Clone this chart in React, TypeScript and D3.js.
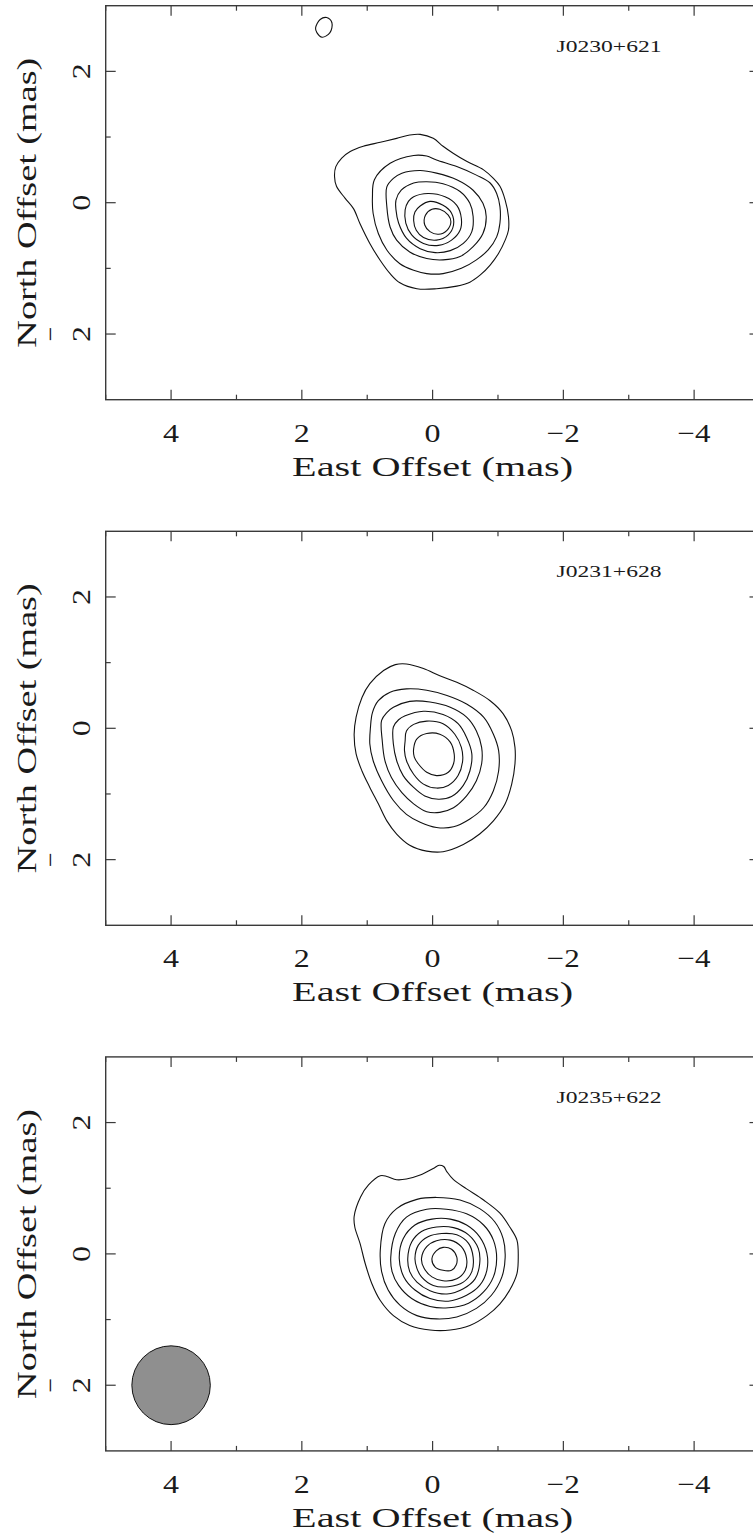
import React from 'react';
import * as d3 from 'd3';

// Source names, one per panel
const sourceNames = ['J0230+621', 'J0231+628', 'J0235+622'];

// Axis ticks (mas)
const xMajorTicks = [4, 2, 0, -2, -4];
const xMinorTicks = [5, 3, 1, -1, -3, -5];
const yMajorTicks = [2, 0, -2];
const yMinorTicks = [1, -1];

// Contours, [east offset, north offset] in mas, outermost first
const j0230Contours: [number, number][][] = [
  [[0.19, 1.04], [-0.01, 0.98], [-0.16, 0.86], [-0.32, 0.75], [-0.52, 0.63], [-0.78, 0.5], [-0.93, 0.37], [-1.03, 0.25],
   [-1.11, 0.04], [-1.16, -0.21], [-1.16, -0.42], [-1.11, -0.57], [-1.01, -0.77], [-0.88, -0.95], [-0.73, -1.1],
   [-0.57, -1.21], [-0.37, -1.27], [-0.06, -1.31], [0.24, -1.31], [0.5, -1.22], [0.65, -1.08], [0.8, -0.88],
   [0.96, -0.62], [1.11, -0.32], [1.21, -0.09], [1.34, 0.07], [1.47, 0.25], [1.5, 0.4], [1.48, 0.55], [1.39, 0.68],
   [1.26, 0.78], [1.06, 0.86], [0.8, 0.92], [0.55, 0.98], [0.35, 1.03]],
  [[0.89, 0.35], [0.65, 0.6], [0.29, 0.72], [0.09, 0.71], [-0.06, 0.65], [-0.37, 0.55], [-0.67, 0.42], [-0.88, 0.3],
   [-0.98, 0.14], [-1.03, -0.06], [-1.03, -0.31], [-0.98, -0.52], [-0.85, -0.72], [-0.67, -0.87], [-0.44, -1.0],
   [-0.16, -1.08], [0.09, -1.08], [0.29, -1.03], [0.5, -0.93], [0.7, -0.72], [0.83, -0.47], [0.91, -0.16], [0.92, 0.09]],
  [[0.7, 0.24], [0.6, 0.37], [0.47, 0.45], [0.19, 0.49], [-0.06, 0.45], [-0.37, 0.35], [-0.62, 0.19], [-0.77, -0.01],
   [-0.82, -0.21], [-0.77, -0.47], [-0.62, -0.67], [-0.42, -0.82], [-0.16, -0.87], [0.09, -0.85], [0.35, -0.75],
   [0.55, -0.57], [0.65, -0.37], [0.7, -0.06]],
  [[0.56, 0.04], [0.48, 0.19], [0.29, 0.3], [0.09, 0.32], [-0.16, 0.29], [-0.42, 0.17], [-0.57, -0.01], [-0.62, -0.21],
   [-0.6, -0.44], [-0.47, -0.62], [-0.27, -0.73], [-0.04, -0.76], [0.19, -0.7], [0.4, -0.54], [0.52, -0.31], [0.56, -0.11]],
  [[0.42, -0.11], [0.37, 0.02], [0.29, 0.09], [0.07, 0.14], [-0.19, 0.09], [-0.37, -0.04], [-0.44, -0.24], [-0.42, -0.42],
   [-0.29, -0.57], [-0.09, -0.65], [0.14, -0.62], [0.32, -0.49], [0.41, -0.31]],
  [[0.29, -0.27], [0.27, -0.14], [0.19, -0.05], [0.04, 0.02], [-0.16, -0.04], [-0.29, -0.16], [-0.32, -0.34],
   [-0.24, -0.49], [-0.06, -0.57], [0.14, -0.53], [0.25, -0.42]],
  [[0.11, -0.19], [0.01, -0.1], [-0.11, -0.1], [-0.24, -0.19], [-0.28, -0.29], [-0.22, -0.42], [-0.09, -0.48],
   [0.04, -0.44], [0.12, -0.34]],
  [[1.62, 2.82], [1.54, 2.74], [1.57, 2.59], [1.69, 2.52], [1.77, 2.59], [1.79, 2.66], [1.72, 2.79]],
];

const j0231Contours: [number, number][][] = [
  [[0.4, 0.98], [0.14, 0.91], [-0.11, 0.8], [-0.37, 0.7], [-0.62, 0.58], [-0.88, 0.42], [-1.08, 0.22], [-1.21, -0.04],
   [-1.26, -0.29], [-1.26, -0.54], [-1.21, -0.85], [-1.11, -1.15], [-0.93, -1.41], [-0.72, -1.61], [-0.47, -1.77],
   [-0.16, -1.88], [0.09, -1.87], [0.35, -1.78], [0.55, -1.61], [0.7, -1.41], [0.83, -1.15], [0.96, -0.9], [1.08, -0.65],
   [1.17, -0.39], [1.2, -0.09], [1.17, 0.17], [1.08, 0.47], [0.96, 0.68], [0.75, 0.88], [0.57, 0.97]],
  [[0.83, 0.42], [0.65, 0.55], [0.4, 0.6], [0.09, 0.58], [-0.22, 0.5], [-0.52, 0.37], [-0.78, 0.17], [-0.93, -0.09],
   [-1.01, -0.34], [-1.01, -0.65], [-0.93, -0.95], [-0.78, -1.21], [-0.57, -1.38], [-0.32, -1.5], [-0.06, -1.51],
   [0.19, -1.43], [0.4, -1.31], [0.6, -1.1], [0.78, -0.8], [0.91, -0.49], [0.96, -0.24], [0.95, 0.02], [0.92, 0.24]],
  [[0.78, 0.12], [0.7, 0.24], [0.6, 0.32], [0.35, 0.41], [0.04, 0.4], [-0.27, 0.32], [-0.52, 0.17], [-0.67, -0.04],
   [-0.75, -0.29], [-0.75, -0.54], [-0.67, -0.8], [-0.52, -1.03], [-0.32, -1.21], [-0.11, -1.28], [0.09, -1.27],
   [0.29, -1.15], [0.47, -0.98], [0.63, -0.75], [0.73, -0.49], [0.77, -0.19]],
  [[0.6, 0.02], [0.52, 0.13], [0.42, 0.19], [0.14, 0.26], [-0.16, 0.21], [-0.39, 0.07], [-0.52, -0.14], [-0.6, -0.39],
   [-0.57, -0.65], [-0.47, -0.87], [-0.29, -1.04], [-0.09, -1.08], [0.12, -1.03], [0.29, -0.9], [0.45, -0.72],
   [0.55, -0.49], [0.6, -0.24]],
  [[0.42, -0.19], [0.4, -0.04], [0.29, 0.06], [0.09, 0.11], [-0.16, 0.07], [-0.34, -0.09], [-0.44, -0.29],
   [-0.46, -0.49], [-0.39, -0.72], [-0.24, -0.87], [-0.06, -0.91], [0.14, -0.85], [0.29, -0.7], [0.4, -0.49], [0.43, -0.34]],
  [[0.29, -0.31], [0.24, -0.16], [0.09, -0.08], [-0.11, -0.09], [-0.27, -0.21], [-0.33, -0.39], [-0.32, -0.54],
   [-0.24, -0.67], [-0.06, -0.72], [0.09, -0.67], [0.22, -0.54], [0.28, -0.44]],
];

const j0235Contours: [number, number][][] = [
  [[1.2, 0.57], [1.1, 0.87], [0.98, 1.05], [0.8, 1.19], [0.7, 1.18], [0.55, 1.13], [0.4, 1.14], [0.19, 1.2],
   [-0.01, 1.3], [-0.1, 1.35], [-0.17, 1.33], [-0.22, 1.25], [-0.32, 1.13], [-0.52, 0.99], [-0.78, 0.82],
   [-1.03, 0.62], [-1.18, 0.41], [-1.29, 0.21], [-1.31, -0.05], [-1.29, -0.3], [-1.18, -0.55], [-1.03, -0.76],
   [-0.83, -0.94], [-0.57, -1.09], [-0.27, -1.16], [0.04, -1.16], [0.35, -1.09], [0.6, -0.94], [0.8, -0.71],
   [0.93, -0.45], [1.03, -0.15], [1.11, 0.16], [1.19, 0.41]],
  [[0.8, 0.06], [0.73, 0.46], [0.55, 0.69], [0.24, 0.83], [-0.06, 0.86], [-0.42, 0.82], [-0.72, 0.69], [-0.95, 0.49],
   [-1.08, 0.23], [-1.11, -0.05], [-1.06, -0.35], [-0.9, -0.63], [-0.67, -0.83], [-0.37, -0.96], [-0.06, -0.99],
   [0.24, -0.94], [0.5, -0.78], [0.68, -0.55], [0.78, -0.27]],
  [[0.64, -0.05], [0.57, 0.31], [0.4, 0.56], [0.09, 0.68], [-0.21, 0.68], [-0.52, 0.61], [-0.78, 0.44], [-0.93, 0.21],
   [-0.98, -0.07], [-0.93, -0.35], [-0.78, -0.58], [-0.55, -0.75], [-0.24, -0.82], [0.04, -0.8], [0.32, -0.68],
   [0.52, -0.48], [0.62, -0.27]],
  [[0.51, -0.07], [0.45, 0.23], [0.27, 0.44], [0.01, 0.53], [-0.27, 0.53], [-0.52, 0.44], [-0.72, 0.26], [-0.83, 0.01],
   [-0.83, -0.25], [-0.72, -0.48], [-0.52, -0.63], [-0.24, -0.72], [0.04, -0.68], [0.27, -0.55], [0.44, -0.35]],
  [[0.38, -0.07], [0.32, 0.18], [0.17, 0.34], [-0.06, 0.41], [-0.32, 0.4], [-0.55, 0.29], [-0.7, 0.08], [-0.72, -0.15],
   [-0.65, -0.38], [-0.47, -0.53], [-0.22, -0.61], [0.04, -0.56], [0.24, -0.43], [0.35, -0.27]],
  [[0.27, -0.07], [0.22, 0.13], [0.07, 0.26], [-0.14, 0.31], [-0.37, 0.29], [-0.55, 0.16], [-0.62, -0.05],
   [-0.6, -0.27], [-0.47, -0.43], [-0.24, -0.5], [-0.01, -0.48], [0.17, -0.35], [0.24, -0.22]],
  [[0.17, -0.07], [0.09, 0.11], [-0.06, 0.2], [-0.27, 0.21], [-0.44, 0.11], [-0.52, -0.07], [-0.5, -0.25],
   [-0.37, -0.38], [-0.16, -0.41], [0.01, -0.35], [0.13, -0.22]],
  [[0.01, -0.07], [-0.06, 0.05], [-0.16, 0.1], [-0.29, 0.07], [-0.37, -0.05], [-0.36, -0.17], [-0.29, -0.25],
   [-0.16, -0.25], [-0.04, -0.2]],
];

const panelContours = [j0230Contours, j0231Contours, j0235Contours];

// Restoring beam (only drawn in the last panel), mas
const beamCenter: [number, number] = [4, -2];
const beamRadius = 0.6;

const W = 753;
const H = 1536;
const frameLeft = 105.7;
const frameRight = 759.5;
const frameH = 394;
const panelTops = [5.7, 531.3, 1056.9];
const serif = '"Liberation Serif", "DejaVu Serif", serif';
const frameColor = '#3a3a3a';
const textColor = '#1a1a1a';

const x = d3.scaleLinear().domain([5, -5]).range([frameLeft, frameRight]);

const Panel = ({ index }: { index: number }) => {
  const top = panelTops[index];
  const y = d3.scaleLinear().domain([-3, 3]).range([top + frameH, top]);
  const bottom = top + frameH;
  const line = d3
    .line<[number, number]>()
    .x((d) => x(d[0]))
    .y((d) => y(d[1]))
    .curve(d3.curveCatmullRomClosed.alpha(0.5));

  return (
    <g>
      {/* contours */}
      {panelContours[index].map((c, i) => (
        <path key={i} d={line(c) || ''} fill="none" stroke="#111" strokeWidth={1.1} />
      ))}
      {index === 2 && (
        <ellipse
          cx={x(beamCenter[0])}
          cy={y(beamCenter[1])}
          rx={Math.abs(x(beamRadius) - x(0))}
          ry={Math.abs(y(beamRadius) - y(0))}
          fill="#8f8f8f"
          stroke="#111"
          strokeWidth={1}
        />
      )}
      {/* frame */}
      <rect x={frameLeft} y={top} width={frameRight - frameLeft} height={frameH} fill="none" stroke={frameColor} strokeWidth={1.4} />
      {/* x ticks, top and bottom */}
      {xMajorTicks.concat(xMinorTicks).map((t) => {
        const len = xMajorTicks.includes(t) ? 10 : 5;
        return (
          <g key={'x' + t} stroke={frameColor} strokeWidth={1.2}>
            <line x1={x(t)} x2={x(t)} y1={bottom} y2={bottom - len} />
            <line x1={x(t)} x2={x(t)} y1={top} y2={top + len} />
          </g>
        );
      })}
      {/* y ticks, left and right */}
      {yMajorTicks.concat(yMinorTicks).map((t) => {
        const len = yMajorTicks.includes(t) ? 10 : 5;
        return (
          <g key={'y' + t} stroke={frameColor} strokeWidth={1.2}>
            <line x1={frameLeft} x2={frameLeft + len} y1={y(t)} y2={y(t)} />
            <line x1={frameRight} x2={frameRight - len} y1={y(t)} y2={y(t)} />
          </g>
        );
      })}
      {/* x tick labels */}
      {xMajorTicks.map((t) => (
        <text
          key={'xl' + t}
          x={x(t)}
          y={bottom + 42}
          textAnchor="middle"
          fontFamily={serif}
          fontSize={26}
          fill={textColor}
          textLength={t < 0 ? 33 : 16}
          lengthAdjust="spacingAndGlyphs"
        >
          {t < 0 ? '\u2212' + Math.abs(t) : String(t)}
        </text>
      ))}
      {/* y tick labels (rotated) */}
      {yMajorTicks.map((t) => (
        <g key={'yl' + t}>
          <text
            transform={`translate(89.5,${y(t)}) rotate(-90)`}
            textAnchor="middle"
            fontFamily={serif}
            fontSize={26}
            fill={textColor}
            textLength={16}
            lengthAdjust="spacingAndGlyphs"
          >
            {String(Math.abs(t))}
          </text>
          {t < 0 && (
            <text
              transform={`translate(59,${y(t)}) rotate(-90)`}
              textAnchor="middle"
              fontFamily={serif}
              fontSize={26}
              fill={textColor}
            >
              {'\u2212'}
            </text>
          )}
        </g>
      ))}
      {/* axis titles */}
      <text
        x={x(0)}
        y={bottom + 76}
        textAnchor="middle"
        fontFamily={serif}
        fontSize={27}
        fill={textColor}
        textLength={281}
        lengthAdjust="spacingAndGlyphs"
      >
        East Offset (mas)
      </text>
      <text
        transform={`translate(36,${y(0)}) rotate(-90)`}
        textAnchor="middle"
        fontFamily={serif}
        fontSize={28}
        fill={textColor}
        textLength={290}
        lengthAdjust="spacingAndGlyphs"
      >
        North Offset (mas)
      </text>
      {/* source name */}
      <text
        x={609}
        y={top + 46}
        textAnchor="middle"
        fontFamily={serif}
        fontSize={16}
        fill={textColor}
        textLength={105}
        lengthAdjust="spacingAndGlyphs"
      >
        {sourceNames[index]}
      </text>
    </g>
  );
};

const App = () => (
  <svg
    width={W}
    height={H}
    style={{ position: 'absolute', left: 0, top: 0, background: '#fff' }}
  >
    {sourceNames.map((_, i) => (
      <Panel key={i} index={i} />
    ))}
  </svg>
);

export default App;
